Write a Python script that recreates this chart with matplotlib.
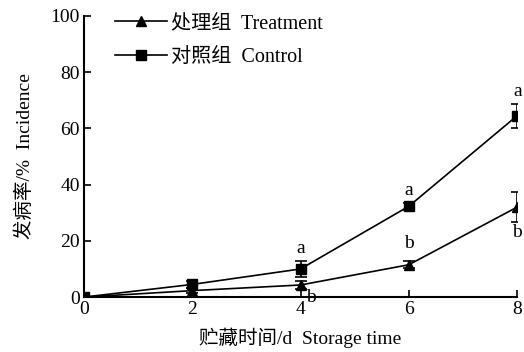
import numpy as np
import matplotlib
matplotlib.use("Agg")
import matplotlib.pyplot as plt
from matplotlib.lines import Line2D

plt.rcParams['font.family'] = ['Liberation Serif', 'Noto Sans CJK SC']

# storage days
days = [0, 2, 4, 6, 8]
# incidence (%) of treatment and control groups
treat = [0, 2.3, 4.3, 11.5, 32]
treat_err = [0, 1.0, 1.5, 1.3, 5.3]
ctrl = [0, 4.5, 10, 32.3, 64.5]
ctrl_err = [0, 1.3, 3.0, 1.3, 4.3]
# significance letters
ctrl_letters = ['', '', 'a', 'a', 'a']
treat_letters = ['', '', 'b', 'b', 'b']

fig = plt.figure(figsize=(5.24, 3.52), dpi=100)
ax = fig.add_axes([0.160, 0.156, 0.827, 0.799])

ax.errorbar(days, treat, yerr=treat_err, color='black', marker='^', markersize=7,
            lw=1.2, capsize=4, elinewidth=1.2, capthick=1.2)
ax.errorbar(days, ctrl, yerr=ctrl_err, color='black', marker='s', markersize=6.5,
            lw=1.2, capsize=4, elinewidth=1.2, capthick=1.2)

# letters above control points
for x, y, e, t in zip(days, ctrl, ctrl_err, ctrl_letters):
    if t:
        ax.text(x, y + e + 1.2, t, ha='center', va='bottom', fontsize=14)

# letters for treatment points (placement varies)
offsets = {4: (0.2, -4.5, 'center'), 6: (0, 4.5, 'bottom'), 8: (0, -12, 'bottom')}
for x, y, t in zip(days, treat, treat_letters):
    if t:
        dx, dy, va = offsets[x]
        ax.text(x + dx, y + dy, t, ha='center', va=va, fontsize=14)

ax.set_xlim(0, 8)
ax.set_ylim(0, 100)
ax.set_xticks([0, 2, 4, 6, 8])
ax.set_yticks([0, 20, 40, 60, 80, 100])
ax.spines['top'].set_visible(False)
ax.spines['right'].set_visible(False)
ax.spines['left'].set_linewidth(1.5)
ax.spines['bottom'].set_linewidth(1.5)
ax.tick_params(direction='in', length=5, width=1.2, labelsize=14, pad=3)

ax.set_xlabel('贮藏时间/d  Storage time', fontsize=14, labelpad=7)
ax.set_ylabel('发病率/%  Incidence', fontsize=14, labelpad=12)

handles = [Line2D([], [], color='black', marker='^', markersize=7, lw=1.2),
           Line2D([], [], color='black', marker='s', markersize=6.5, lw=1.2)]
labels = ['处理组  Treatment', '对照组  Control']
ax.legend(handles, labels, loc='upper left', bbox_to_anchor=(0.03, 1.07), frameon=False,
          fontsize=14.5, handlelength=2.6, handletextpad=0.2, labelspacing=0.7)

fig.savefig('out.png', dpi=100)
